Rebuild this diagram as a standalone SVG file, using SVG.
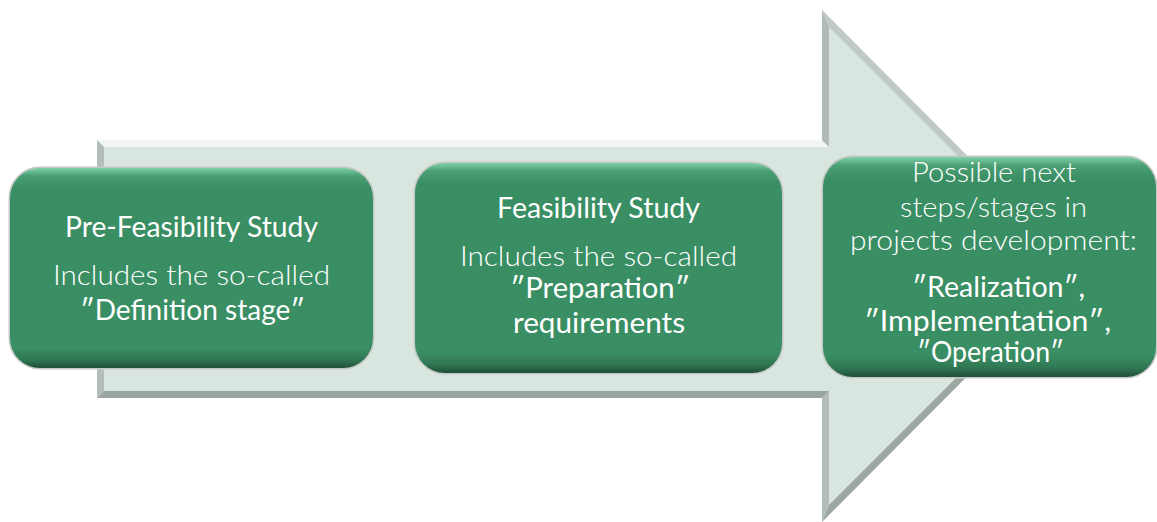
<svg xmlns="http://www.w3.org/2000/svg" width="1157" height="522" viewBox="0 0 1157 522">
  <defs>
    <linearGradient id="boxg" x1="0" y1="0" x2="0" y2="1">
      <stop offset="0" stop-color="#7fd0a6"/>
      <stop offset="0.04" stop-color="#4a9e73"/>
      <stop offset="0.1" stop-color="#3a8e63"/>
      <stop offset="0.9" stop-color="#3a8e63"/>
      <stop offset="0.96" stop-color="#2f7652"/>
      <stop offset="1" stop-color="#1f4e37"/>
    </linearGradient>
  </defs>
  <style>
    .box { fill: url(#boxg); }
    .glow { fill: none; stroke: #c4c9c6; stroke-width: 3; }
    .t { font-family: Lato, "Liberation Sans", sans-serif; fill: #ffffff; text-anchor: middle; font-size: 28px; }
    .lt { font-weight: 300; font-size: 28px; }
  </style>

  <g id="arrow">
    <polygon points="97,140 822,140 822,10 1077,266 822,522 822,398 97,398" fill="#d9e6df"/>
    <polygon points="97,140 822,140 829,147 104,147" fill="#f1f6f3"/>
    <polygon points="97,140 104,147 104,391 97,398" fill="#b3beb8"/>
    <polygon points="822,140 822,10 829,27 829,147" fill="#b0bbb5"/>
    <polygon points="822,10 1077,266 1068,266 829,27" fill="#bfcac4"/>
    <polygon points="1077,266 822,522 829,505 1068,266" fill="#9ca7a1"/>
    <polygon points="822,522 822,398 829,391 829,505" fill="#b3beb8"/>
    <polygon points="822,398 97,398 104,391 829,391" fill="#9aa59f"/>
  </g>

  <g id="node1">
    <rect class="glow" x="10" y="168" width="363" height="200" rx="30"/>
    <rect class="box" x="10" y="168" width="363" height="200" rx="30"/>
    <text class="t" x="191.5" y="237" textLength="253" lengthAdjust="spacingAndGlyphs">Pre-Feasibility Study</text>
    <text class="t lt" x="191.5" y="285" textLength="277" lengthAdjust="spacingAndGlyphs">Includes the so-called</text>
    <text class="t" x="192.5" y="320" textLength="225" lengthAdjust="spacingAndGlyphs">″Definition stage″</text>
  </g>

  <g id="node2">
    <rect class="glow" x="415" y="163" width="367" height="210" rx="30"/>
    <rect class="box" x="415" y="163" width="367" height="210" rx="30"/>
    <text class="t" x="598.5" y="218" textLength="203" lengthAdjust="spacingAndGlyphs">Feasibility Study</text>
    <text class="t lt" x="598.5" y="266" textLength="277" lengthAdjust="spacingAndGlyphs">Includes the so-called</text>
    <text class="t" x="600" y="298" textLength="180" lengthAdjust="spacingAndGlyphs">″Preparation″</text>
    <text class="t" x="599" y="333" textLength="172" lengthAdjust="spacingAndGlyphs">requirements</text>
  </g>

  <g id="node3">
    <rect class="glow" x="823" y="157" width="333" height="220" rx="30"/>
    <rect class="box" x="823" y="157" width="333" height="220" rx="30"/>
    <text class="t lt" x="994" y="182" textLength="164" lengthAdjust="spacingAndGlyphs">Possible next</text>
    <text class="t lt" x="993.5" y="217" textLength="187" lengthAdjust="spacingAndGlyphs">steps/stages in</text>
    <text class="t lt" x="993.5" y="250" textLength="287" lengthAdjust="spacingAndGlyphs">projects development:</text>
    <text class="t" x="998.5" y="297" textLength="173" lengthAdjust="spacingAndGlyphs">″Realization″,</text>
    <text class="t" x="987.5" y="331" textLength="247" lengthAdjust="spacingAndGlyphs">″Implementation″,</text>
    <text class="t" x="990.5" y="362" textLength="147" lengthAdjust="spacingAndGlyphs">″Operation″</text>
  </g>

  <g id="connectors"></g>
</svg>
